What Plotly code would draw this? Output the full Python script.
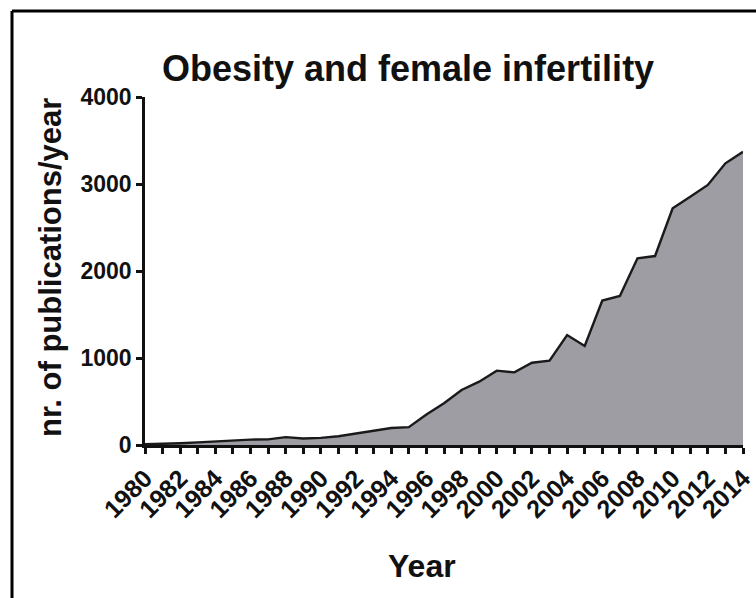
import plotly.graph_objects as go

years = list(range(1980, 2015))
publications = [8, 12, 20, 30, 40, 55, 62, 65, 90, 75, 82, 100, 130, 160, 195, 205,
                350, 480, 632, 728, 855, 835, 946, 970, 1264, 1138, 1660, 1713, 2146,
                2172, 2720, 2854, 2989, 3238, 3371]
x_tick_text = [str(y) if y % 2 == 0 else "" for y in years]
y_ticks = [0, 1000, 2000, 3000, 4000]

title_text = "Obesity and female infertility"
y_title = "nr. of publications/year"
x_title = "Year"

FONT = "Liberation Sans, Arial, sans-serif"

L, R, T, B = 145, 13, 97, 153
W, H = 756, 598
pw, ph = W - L - R, H - T - B

def px(xp):
    return (xp - L) / pw

def py(yp):
    return (H - B - yp) / ph

fig = go.Figure()
fig.add_trace(go.Scatter(
    x=years, y=publications, mode="lines", fill="tozeroy",
    fillcolor="#9e9da3", line=dict(color="#1a1a1a", width=2.4),
    hoverinfo="skip", showlegend=False,
))

fig.update_layout(
    width=W, height=H,
    margin=dict(l=L, r=R, t=T, b=B, autoexpand=False),
    paper_bgcolor="white", plot_bgcolor="white",
    font=dict(family=FONT, color="#111111"),
    xaxis=dict(
        range=[1980, 2014], tickmode="array", tickvals=years, ticktext=x_tick_text,
        tickangle=-45, ticks="outside", ticklen=6, tickwidth=2.5, tickcolor="#111",
        showline=True, linewidth=2.5, linecolor="#111", showgrid=False, zeroline=False,
        automargin=False,
        tickfont=dict(size=25, family=FONT, weight="bold", color="#111"),
    ),
    yaxis=dict(
        range=[0, 4000], tickmode="array", tickvals=y_ticks,
        ticks="outside", ticklen=6, tickwidth=2.5, tickcolor="#111",
        showline=True, linewidth=2.5, linecolor="#111", showgrid=False, zeroline=False,
        automargin=False,
        tickfont=dict(size=23, family=FONT, weight="bold", color="#111"),
    ),
    annotations=[
        dict(text=title_text, xref="paper", yref="paper", x=px(408), y=py(68),
             xanchor="center", yanchor="middle", showarrow=False,
             font=dict(size=36, family=FONT, weight="bold", color="#111")),
        dict(text=y_title, xref="paper", yref="paper", x=px(50), y=py(268),
             xanchor="center", yanchor="middle", showarrow=False, textangle=-90,
             font=dict(size=31, family=FONT, weight="bold", color="#111")),
        dict(text=x_title, xref="paper", yref="paper", x=px(422), y=py(566),
             xanchor="center", yanchor="middle", showarrow=False,
             font=dict(size=32, family=FONT, weight="bold", color="#111")),
    ],
    shapes=[
        dict(type="line", xref="paper", yref="paper", x0=px(12), x1=px(800),
             y0=py(11), y1=py(11), line=dict(color="black", width=3)),
        dict(type="line", xref="paper", yref="paper", x0=px(12), x1=px(12),
             y0=py(11), y1=py(640), line=dict(color="black", width=3)),
    ],
)

fig.write_html("out.html", config={"displayModeBar": False},
               post_script="document.body.style.margin='0';document.body.style.overflow='hidden';")
